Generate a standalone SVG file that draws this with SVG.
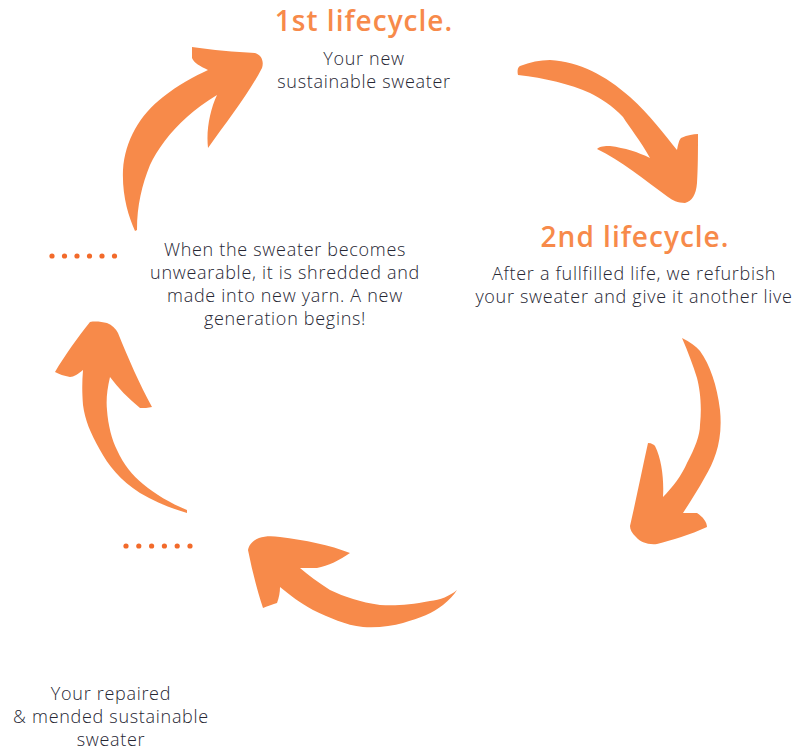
<svg xmlns="http://www.w3.org/2000/svg" width="799" height="753" viewBox="0 0 799 753">
<style>
.arrow{fill:#f78a4a}
.dot{fill:#f26a2a}
.title{font-family:"Open Sans","Liberation Sans",sans-serif;font-weight:600;font-size:28px;letter-spacing:1px;fill:#f78a4a;text-anchor:middle}
.body{font-family:"Open Sans","Liberation Sans",sans-serif;font-weight:300;font-size:18px;letter-spacing:0.7px;fill:#262633;text-anchor:middle}
</style>
<rect width="799" height="753" fill="#ffffff"/>
<g id="connectors">
<path id="arrow1" class="arrow" d="M135,231 C128,215 122,195 123,170 C125,140 140,115 163,97 C178,85 195,76 208,70 C200,66 194,63 192,58 L192,47 C212,50 235,52 255,53 C262,55 264,62 262,68 C248,95 228,120 208,148 C206,130 210,110 217,95 C205,102 195,110 187,117 C170,132 157,150 150,165 C142,185 137,205 137,230 Z"/>
<path id="arrow2" class="arrow" d="M518,75 C517,70 518,67 520,66 C530,62 540,60 550,60 C580,62 605,75 630,97 C650,115 665,135 677,150 C678,145 679,140 681,138 C688,135 693,134 698,134 C698,150 698,168 697,183 C696,195 692,201 685,203 C678,203 672,200 668,197 C645,180 620,160 597,149 C600,146 605,146 610,146 C625,148 638,152 650,158 C640,140 630,128 623,117 C612,105 600,98 590,93 C570,84 545,78 518,75 Z"/>
<path id="arrow3" class="arrow" d="M682,338 C690,342 696,346 700,351 C710,365 717,385 720,410 C723,440 715,460 705,477 C698,490 690,502 683,513 C688,513 693,513 697,513 C703,517 707,522 707,527 C690,535 672,540 657,544 C648,545 640,542 636,537 C632,533 630,530 630,526 C636,500 642,470 648,443 C652,443 654,445 655,446 C662,460 664,480 663,497 C672,488 682,475 687,463 C695,448 700,435 700,425 C702,405 700,390 697,378 C693,365 688,352 682,338 Z"/>
<path id="arrow4" class="arrow" d="M457,590 C450,596 440,600 430,601 C410,605 395,606 380,605 C360,602 345,597 330,590 C318,582 308,575 300,568 C306,568 312,568 317,568 C328,566 340,560 350,553 C330,545 305,540 280,537 C272,536 265,536 259,538 C252,541 249,545 248,550 C252,570 257,590 263,608 C268,606 273,604 277,603 C279,598 280,592 280,587 C290,595 300,603 313,610 C330,618 345,625 363,627 C378,628 392,626 403,623 C420,618 433,613 443,605 C449,600 454,595 457,590 Z"/>
<path id="arrow5" class="arrow" d="M187,513 C170,508 155,502 140,493 C120,480 108,465 100,450 C90,432 85,420 83,405 C82,392 82,382 83,370 C78,374 74,377 70,377 C64,376 59,374 55,372 C65,355 78,337 90,322 C96,321 102,322 107,323 C112,325 116,329 118,333 C128,358 140,385 152,407 C148,408 144,408 140,408 C128,398 118,388 110,377 C107,390 106,400 107,410 C108,425 112,440 117,450 C124,465 132,475 143,484 C155,494 170,503 187,510 Z"/>
</g>
<g id="dots-upper">
<circle class="dot" cx="52" cy="256" r="2.6"/><circle class="dot" cx="64.5" cy="256" r="2.6"/><circle class="dot" cx="77" cy="256" r="2.6"/><circle class="dot" cx="89.5" cy="256" r="2.6"/><circle class="dot" cx="102" cy="256" r="2.6"/><circle class="dot" cx="114.5" cy="256" r="2.6"/>
</g>
<g id="dots-lower">
<circle class="dot" cx="126" cy="546" r="2.6"/><circle class="dot" cx="138.8" cy="546" r="2.6"/><circle class="dot" cx="151.6" cy="546" r="2.6"/><circle class="dot" cx="164.4" cy="546" r="2.6"/><circle class="dot" cx="177.2" cy="546" r="2.6"/><circle class="dot" cx="190" cy="546" r="2.6"/>
</g>
<g id="node-1st">
<text class="title" x="364" y="31">1st lifecycle.</text>
<text class="body" x="364" y="65">Your new</text>
<text class="body" x="364" y="88">sustainable sweater</text>
</g>
<g id="node-2nd">
<text class="title" x="635" y="247">2nd lifecycle.</text>
<text class="body" x="634" y="280">After a fullfilled life, we refurbish</text>
<text class="body" x="634" y="303">your sweater and give it another live</text>
</g>
<g id="node-center">
<text class="body" x="285" y="256">When the sweater becomes</text>
<text class="body" x="285" y="279">unwearable, it is shredded and</text>
<text class="body" x="285" y="302">made into new yarn. A new</text>
<text class="body" x="285" y="325">generation begins!</text>
</g>
<g id="node-repaired">
<text class="body" x="111" y="700">Your repaired</text>
<text class="body" x="111" y="723">&amp; mended sustainable</text>
<text class="body" x="111" y="746">sweater</text>
</g>
</svg>
